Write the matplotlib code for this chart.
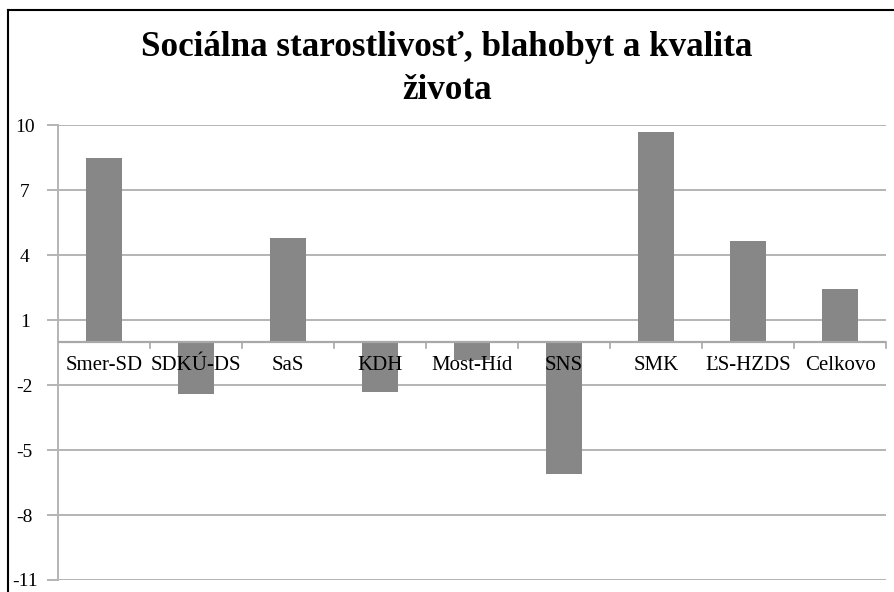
import matplotlib
matplotlib.use("Agg")
import matplotlib.pyplot as plt
from matplotlib.lines import Line2D

title = "Sociálna starostlivosť, blahobyt a kvalita\nživota"
categories = ["Smer-SD", "SDKÚ-DS", "SaS", "KDH", "Most-Híd", "SNS", "SMK", "ĽS-HZDS", "Celkovo"]
values = [8.5, -2.4, 4.8, -2.3, -0.85, -6.1, 9.7, 4.65, 2.45]
yticks = [-11, -8, -5, -2, 1, 4, 7, 10]

W, H = 894, 592
fig = plt.figure(figsize=(W / 100, H / 100), dpi=100)
serif = "Liberation Serif"

ax = fig.add_axes([58 / W, 1 - 580 / H, (886 - 58) / W, (580 - 125.3) / H])
n = len(categories)
x = list(range(n))
ax.bar(x, values, width=0.39, color="#878787", zorder=2)
ax.set_xlim(-0.5, n - 0.5)
ax.set_ylim(-11, 10)
ax.set_yticks(yticks)
ax.set_yticklabels([str(t) for t in yticks], fontfamily=serif, fontsize=14)
ax.yaxis.grid(True, color="#b4b4b4", linewidth=1.4, zorder=0)
ax.tick_params(axis="y", length=8, color="#b4b4b4", width=1.4)
for lab in ax.get_yticklabels():
    lab.set_horizontalalignment("center")
ax.yaxis.set_tick_params(pad=16)
ax.set_xticks([])
for s in ["top", "right", "bottom"]:
    ax.spines[s].set_visible(False)
ax.spines["left"].set_color("#b4b4b4")
ax.spines["left"].set_linewidth(1.4)

# zero axis line
ax.axhline(0, color="#a8a8a8", linewidth=1.6, zorder=3)
# category boundary tick marks
for b in range(1, n + 1):
    ax.plot([b - 0.5, b - 0.5], [0, -0.3], color="#a8a8a8", linewidth=1.2, zorder=3,
            clip_on=False)

# category labels below zero line
for xi, c in zip(x, categories):
    ax.text(xi, -1.1, c, ha="center", va="center", fontfamily=serif, fontsize=15,
            zorder=4)

fig.text(0.5, 1 - 69 / H, title, ha="center", va="center", fontfamily=serif,
         fontweight="bold", fontsize=25.2, linespacing=1.42)

# figure border (top and left visible)
fig.add_artist(Line2D([8 / W, 8 / W], [0, 1 - 10 / H], transform=fig.transFigure,
                      color="black", linewidth=1.5))
fig.add_artist(Line2D([8 / W, 1], [1 - 10 / H, 1 - 10 / H], transform=fig.transFigure,
                      color="black", linewidth=1.5))

fig.savefig("out.png", dpi=100)
